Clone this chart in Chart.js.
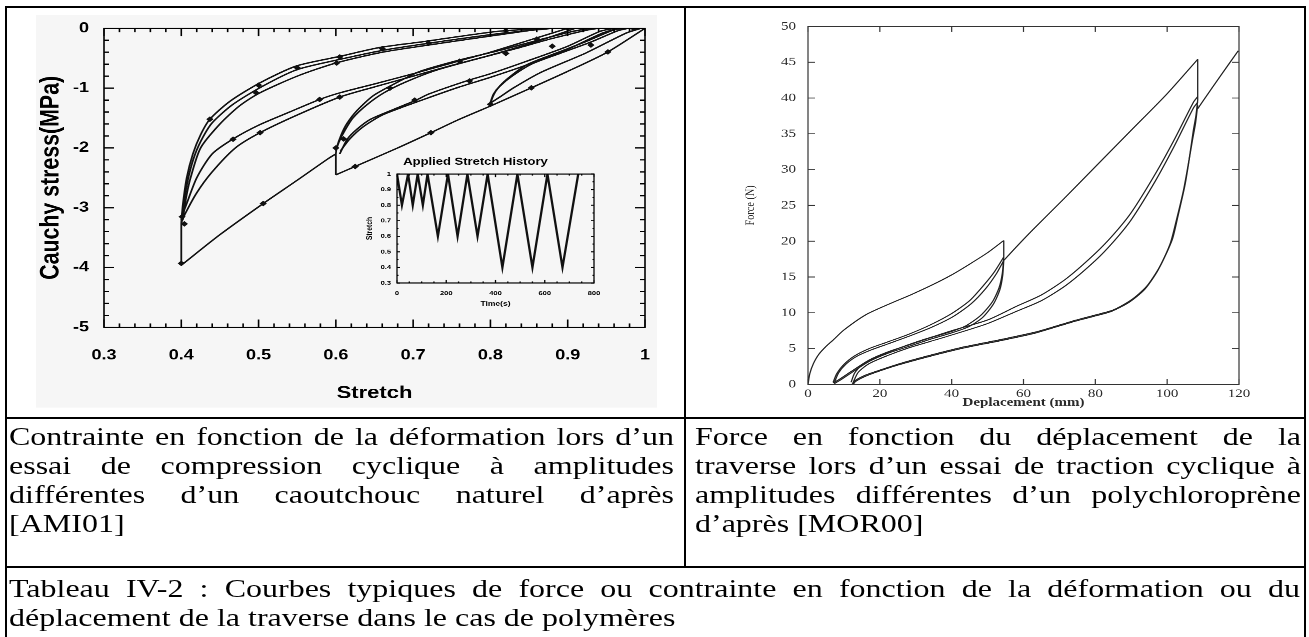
<!DOCTYPE html>
<html lang="fr">
  <head>
    <meta charset="UTF-8" />
    <title>Tableau IV-2</title>
    <script src="https://cdn.jsdelivr.net/npm/chart.js"></script>
    <style>
      html,
      body {
        margin: 0;
        padding: 0;
        background: #fff;
        overflow: hidden;
      }
      #page {
        position: relative;
        width: 1309px;
        height: 637px;
      }
      /* the scanned sheet is squashed vertically: everything is laid out taller, then scaled down */
      #sheet {
        position: absolute;
        left: 0;
        top: 0;
        width: 1309px;
        height: 807px;
        transform: scaleY(0.79);
        transform-origin: 0 0;
      }
      .hl {
        position: absolute;
        height: 2px;
        background: #000;
      }
      .vl {
        position: absolute;
        width: 2px;
        background: #000;
      }
      .cap {
        position: absolute;
        font-family: 'Liberation Serif', 'Times New Roman', serif;
        font-size: 32px;
        line-height: 36.8px;
        text-align: justify;
        color: #000;
      }
      canvas {
        position: absolute;
      }
    </style>
  </head>
  <body>
    <div id="page">
      <div id="sheet">
        <div style="position: absolute; left: 36px; top: 19px; width: 621px; height: 497px; background: #f6f6f6"></div>
        <canvas id="stressChart" width="677" height="517" style="left: 7px; top: 9.5px"></canvas>
        <canvas id="historyChart" width="276" height="210" style="left: 357px; top: 190px"></canvas>
        <canvas id="forceChart" width="618" height="517" style="left: 686px; top: 9.5px"></canvas>

        <div class="cap" style="left: 9px; top: 534px; width: 665px">
          Contrainte en fonction de la déformation lors d’un essai de compression cyclique à amplitudes différentes d’un caoutchouc naturel d’après [AMI01]
        </div>
        <div class="cap" style="left: 695px; top: 534px; width: 606px">
          Force en fonction du déplacement de la traverse lors d’un essai de traction cyclique à amplitudes différentes d’un polychloroprène d’après [MOR00]
        </div>
        <div class="cap" style="left: 9px; top: 726.5px; width: 1291px">
          Tableau IV-2 : Courbes typiques de force ou contrainte en fonction de la déformation ou du déplacement de la traverse dans le cas de polymères
        </div>
      </div>

      <!-- table borders -->
      <div class="hl" style="left: 5px; top: 5.5px; width: 1301px"></div>
      <div class="hl" style="left: 5px; top: 416.5px; width: 1301px"></div>
      <div class="hl" style="left: 5px; top: 565.5px; width: 1301px"></div>
      <div class="vl" style="left: 5px; top: 5.5px; height: 640px"></div>
      <div class="vl" style="left: 1304px; top: 5.5px; height: 640px"></div>
      <div class="vl" style="left: 684px; top: 5.5px; height: 561px"></div>
    </div>

    <script>
      // ---- left chart : stretch / Cauchy stress (MPa) ----
      const stretchTicks = [0.3, 0.4, 0.5, 0.6, 0.7, 0.8, 0.9, 1]
      const stressTicks = [0, -1, -2, -3, -4, -5]

      // cycles down to 0.8
      const load08 = [[1, 0], [0.952, -0.395], [0.9, -0.72], [0.853, -0.995], [0.8, -1.3]]
      const unload08a = [[0.8, -1.3], [0.802, -1.18], [0.808, -1.03], [0.821, -0.855], [0.847, -0.61], [0.886, -0.41], [0.924, -0.22], [0.959, -0.03], [0.972, 0]]
      const unload08b = [[0.8, -1.24], [0.804, -1.1], [0.812, -0.97], [0.828, -0.8], [0.853, -0.6], [0.89, -0.42], [0.93, -0.23], [0.965, -0.04], [0.978, 0]]
      const reload08 = [[0.995, 0], [0.976, -0.078], [0.924, -0.41], [0.864, -0.745], [0.83, -0.995], [0.812, -1.15], [0.8, -1.25]]

      // cycles down to 0.6
      const load06 = [[0.8, -1.3], [0.76, -1.52], [0.723, -1.745], [0.68, -2.0], [0.625, -2.31], [0.6, -2.45]]
      const drop06 = [[0.6, -2.45], [0.6, -2.1]]
      const unload06a = [[0.6, -2.1], [0.601, -2.0], [0.607, -1.78], [0.614, -1.6], [0.627, -1.38], [0.648, -1.13], [0.674, -0.94], [0.709, -0.72], [0.76, -0.53], [0.812, -0.37], [0.864, -0.19], [0.907, -0.05], [0.93, 0]]
      const unload06b = [[0.6, -2.05], [0.604, -1.9], [0.612, -1.7], [0.622, -1.5], [0.64, -1.28], [0.662, -1.08], [0.69, -0.9], [0.73, -0.7], [0.78, -0.52], [0.83, -0.35], [0.88, -0.17], [0.925, -0.03], [0.94, 0]]
      const reload06a = [[0.96, 0], [0.942, -0.05], [0.9, -0.3], [0.847, -0.55], [0.8, -0.76], [0.769, -0.88], [0.72, -1.1], [0.704, -1.2], [0.674, -1.36], [0.645, -1.52], [0.628, -1.68], [0.615, -1.85], [0.605, -2.1]]
      const reload06b = [[0.965, 0], [0.945, -0.08], [0.9, -0.35], [0.85, -0.6], [0.8, -0.82], [0.76, -0.98], [0.72, -1.16], [0.69, -1.3], [0.66, -1.45], [0.635, -1.65], [0.618, -1.85], [0.606, -2.05]]

      // cycles down to 0.4
      const load04 = [[0.6, -2.1], [0.59, -2.18], [0.55, -2.54], [0.506, -2.93], [0.45, -3.45], [0.403, -3.93]]
      const drop04 = [[0.4, -3.93], [0.4, -3.25]]
      const unload04a = [[0.4, -3.25], [0.402, -2.95], [0.407, -2.5], [0.415, -2.1], [0.425, -1.78], [0.437, -1.52], [0.463, -1.22], [0.502, -0.91], [0.549, -0.63], [0.605, -0.47], [0.657, -0.32], [0.709, -0.23], [0.81, -0.05], [0.875, 0]]
      const unload04b = [[0.4, -3.2], [0.404, -2.85], [0.41, -2.45], [0.418, -2.1], [0.428, -1.82], [0.44, -1.58], [0.466, -1.28], [0.505, -0.97], [0.55, -0.69], [0.605, -0.52], [0.66, -0.37], [0.72, -0.25], [0.81, -0.09], [0.88, 0]]
      const unload04c = [[0.402, -3.2], [0.406, -2.85], [0.412, -2.5], [0.425, -2.0], [0.45, -1.6], [0.475, -1.3], [0.5, -1.09], [0.55, -0.8], [0.6, -0.58], [0.66, -0.4], [0.72, -0.28], [0.8, -0.13], [0.87, 0]]
      const reload04a = [[0.9, 0], [0.85, -0.2], [0.8, -0.4], [0.75, -0.58], [0.7, -0.76], [0.65, -0.93], [0.605, -1.08], [0.579, -1.19], [0.54, -1.4], [0.5, -1.62], [0.467, -1.85], [0.44, -2.1], [0.42, -2.5], [0.405, -3.0], [0.4, -3.15]]
      const reload04b = [[0.91, 0], [0.86, -0.22], [0.8, -0.45], [0.75, -0.62], [0.7, -0.8], [0.65, -0.98], [0.605, -1.15], [0.55, -1.45], [0.502, -1.745], [0.47, -2.0], [0.44, -2.4], [0.42, -2.75], [0.405, -3.1], [0.4, -3.25]]

      // diamond symbols along the curves
      const stressMarkers = [[0.4, -3.93], [0.506, -2.93], [0.625, -2.31], [0.723, -1.745], [0.853, -0.995], [0.952, -0.395], [0.401, -3.15], [0.404, -3.27], [0.437, -1.52], [0.5, -0.95], [0.55, -0.66], [0.605, -0.48], [0.66, -0.34], [0.72, -0.25], [0.82, -0.04], [0.497, -1.08], [0.601, -0.58], [0.467, -1.855], [0.502, -1.745], [0.579, -1.19], [0.605, -1.15], [0.702, -1.2], [0.773, -0.88], [0.6, -2.0], [0.61, -1.85], [0.67, -1.0], [0.76, -0.55], [0.82, -0.42], [0.88, -0.3], [0.93, -0.28], [0.9, 0], [0.92, 0], [0.96, 0], [0.985, 0], [0.86, -0.18], [0.8, -1.27]]

      // ---- inset : applied stretch history ----
      const historyTime = [0, 20, 45, 64, 84, 105, 124, 166, 207, 246, 286, 327, 368, 428, 489, 550, 611, 672, 736]
      const historyStretch = [1, 0.8, 1, 0.8, 1, 0.8, 1, 0.6, 1, 0.6, 1, 0.6, 1, 0.4, 1, 0.4, 1, 0.4, 1]
      const timeTicks = [0, 200, 400, 600, 800]
      const historyTicks = [0.3, 0.4, 0.5, 0.6, 0.7, 0.8, 0.9, 1]

      // ---- right chart : force (N) / deplacement (mm) ----
      const dispTicks = [0, 20, 40, 60, 80, 100, 120]
      const forceTicks = [0, 5, 10, 15, 20, 25, 30, 35, 40, 45, 50]

      const virgin1 = [[0, 0], [0.5, 1.5], [1.5, 2.9], [3, 4.2], [5, 5.3], [7, 6.2], [10, 7.6], [16, 9.7], [22, 11.1], [29, 12.6], [35, 14], [40, 15.3], [45, 16.8], [50, 18.4], [54.5, 20.1]]
      const drop54 = [[54.5, 20.1], [54.5, 17.8]]
      const unload54a = [[54.5, 17.8], [54.1, 15.5], [53.2, 13.5], [51.3, 11.5], [48, 9.6], [44, 8.2], [40, 7.4], [34, 6.5], [28, 5.5], [22, 4.5], [17, 3.4], [12, 1.8], [9, 0.8], [7, 0.2]]
      const unload54b = [[54.5, 17.3], [54.2, 15.2], [53.4, 13.2], [51.6, 11.2], [48.5, 9.3], [44.5, 8.0], [40, 7.2], [34, 6.3], [28, 5.3], [22, 4.3], [17, 3.2], [12, 1.6], [9, 0.6], [7.3, 0.1]]
      const reload54a = [[7, 0.3], [8, 1.5], [10, 2.8], [13, 4.0], [17, 5.0], [22, 5.9], [28, 7.0], [34, 8.3], [40, 9.9], [45, 11.7], [49, 13.9], [52, 15.8], [54.5, 17.8]]
      const reload54b = [[7.3, 0.2], [8.5, 1.6], [10.5, 2.8], [13.5, 3.9], [17.5, 4.8], [22.5, 5.7], [28.5, 6.8], [34.5, 8.0], [40.5, 9.5], [45.5, 11.3], [49.5, 13.4], [52.5, 15.5], [54.5, 17.3]]
      const virgin2 = [[54.5, 17.3], [58, 19.2], [62.6, 21.6], [71, 25.8], [80, 30.4], [90, 35.5], [100, 40.6], [108.5, 45.4]]
      const drop109 = [[108.5, 45.4], [108.5, 39.7]]
      const unload109a = [[108.5, 39.7], [108, 37.5], [107.3, 35.5], [106, 31], [104.9, 27.7], [103, 23.5], [101.4, 20.2], [98, 16.5], [94.3, 13.7], [90, 11.8], [85, 10.4], [80, 9.7], [74, 8.9], [64, 7.4], [54, 6.3], [44, 5.3], [35, 4.2], [25.5, 2.9], [20, 2], [16, 1.3], [13, 0.5], [12.3, 0]]
      const unload109b = [[108.5, 39], [107.9, 36.5], [107, 34], [105.8, 30.5], [104.5, 27], [102.5, 22.8], [100.8, 19.6], [97.5, 16], [93.8, 13.3], [89.5, 11.5], [84.5, 10.2], [79.5, 9.5], [73.5, 8.7], [63.5, 7.2], [53.5, 6.1], [43.5, 5.1], [34.5, 4], [25, 2.7], [19.5, 1.8], [15.8, 1.1], [13.2, 0.4], [12.6, 0]]
      const reload109a = [[12, 0.3], [13, 1.6], [15, 2.7], [20, 4.0], [25, 5.0], [30, 5.9], [35, 6.7], [40, 7.5], [50, 9.0], [58, 10.9], [65, 12.5], [72, 14.8], [80, 18.3], [85, 20.9], [90, 24.0], [96.7, 29.4], [102, 34.2], [107.3, 39.4], [108.5, 40.2]]
      const reload109b = [[12.5, 0.2], [14, 1.7], [17, 2.9], [22, 4.0], [28, 5.1], [34, 6.0], [40, 6.9], [50, 8.5], [58, 10.2], [65, 11.7], [72, 13.9], [80, 17.3], [85, 19.9], [90, 23.0], [96.7, 28.4], [102, 33.3], [107.3, 38.6], [108.5, 39.4]]
      const final109 = [[108.5, 38.5], [110, 39.6], [115, 43.2], [119.8, 46.6]]

      // frame + inward ticks on the four sides
      const innerTicks = {
        id: 'innerTicks',
        afterDraw(chart, args, o) {
          const { ctx, chartArea: a } = chart
          const xs = chart.scales.x
          const ys = chart.scales.y
          ctx.save()
          ctx.strokeStyle = o.color
          ctx.lineWidth = o.lineWidth
          ctx.strokeRect(a.left, a.top, a.right - a.left, a.bottom - a.top)
          ctx.beginPath()
          const marks = (scale, step, len) => {
            const n = Math.round((scale.max - scale.min) / step)
            for (let i = 0; i <= n; i++) {
              const p = scale.getPixelForValue(scale.min + i * step)
              if (scale.isHorizontal()) {
                ctx.moveTo(p, a.bottom)
                ctx.lineTo(p, a.bottom - len)
                ctx.moveTo(p, a.top)
                ctx.lineTo(p, a.top + len)
              } else {
                ctx.moveTo(a.left, p)
                ctx.lineTo(a.left + len, p)
                ctx.moveTo(a.right, p)
                ctx.lineTo(a.right - len, p)
              }
            }
          }
          marks(xs, o.xMinor, o.xMinorLen)
          marks(xs, o.xMajor, o.xMajorLen)
          marks(ys, o.yMinor, o.yMinorLen)
          marks(ys, o.yMajor, o.yMajorLen)
          ctx.stroke()
          ctx.restore()
        }
      }

      function curve(pts, color, width) {
        return {
          data: pts.map(p => ({ x: p[0], y: p[1] })),
          showLine: true,
          borderColor: color,
          borderWidth: width,
          pointRadius: 0,
          tension: 0.25,
          fill: false
        }
      }

      function axis(min, max, values, size, pad, font, color) {
        return {
          type: 'linear',
          min: min,
          max: max,
          afterFit: s => {
            if (s.isHorizontal()) s.height = size
            else s.width = size
          },
          afterBuildTicks: s => {
            s.ticks = values.map(v => ({ value: v }))
          },
          grid: { display: false, drawTicks: false },
          border: { display: false },
          ticks: {
            padding: pad,
            color: color,
            font: font,
            autoSkip: false,
            maxRotation: 0,
            callback: v => String(v)
          }
        }
      }

      const base = {
        animation: false,
        responsive: false,
        devicePixelRatio: 2
      }

      // left chart
      const stressCurves = [load08, unload08a, unload08b, reload08, load06, drop06, unload06a, unload06b, reload06a, reload06b, load04, drop04, unload04a, unload04b, unload04c, reload04a, reload04b]
      const boldSans = { family: 'Liberation Sans', size: 18, weight: 'bold' }
      const stressX = axis(0.3, 1, stretchTicks, 112.6, 25, boldSans, '#000')
      stressX.title = { display: true, text: 'Stretch', color: '#000', font: { family: 'Liberation Sans', size: 22, weight: 'bold' }, padding: { top: 15.8, bottom: 15.8 } }
      const stressY = axis(-5, 0, stressTicks, 97, 15, boldSans, '#000')
      stressY.title = { display: true, text: 'Cauchy stress(MPa)', color: '#000', font: { family: 'Liberation Sans', size: 27, weight: 'bold' }, padding: { top: 27.8, bottom: 27.8 } }

      new Chart(document.getElementById('stressChart'), {
        type: 'scatter',
        data: {
          datasets: stressCurves.map(c => curve(c, '#111', 1.8)).concat([
            {
              data: stressMarkers.map(p => ({ x: p[0], y: p[1] })),
              showLine: false,
              pointStyle: 'rectRot',
              pointRadius: 3.6,
              backgroundColor: '#111',
              borderColor: '#111',
              borderWidth: 0
            }
          ])
        },
        options: {
          ...base,
          layout: { padding: { top: 24.7, right: 39, left: 0, bottom: 0 } },
          plugins: {
            legend: { display: false },
            tooltip: { enabled: false },
            innerTicks: { color: '#000', lineWidth: 1.6, xMajor: 0.1, xMajorLen: 10, xMinor: 0.02, xMinorLen: 5, yMajor: 1, yMajorLen: 10, yMinor: 0.2, yMinorLen: 5 }
          },
          scales: { x: stressX, y: stressY }
        },
        plugins: [innerTicks]
      })

      // inset
      const smallBold = { family: 'Liberation Sans', size: 7.5, weight: 'bold' }
      const histX = axis(0, 800, timeTicks, 41.8, 8.7, smallBold, '#000')
      histX.title = { display: true, text: 'Time(s)', color: '#000', font: { family: 'Liberation Sans', size: 8.5, weight: 'bold' }, padding: { top: 10.2, bottom: 10.2 } }
      const histY = axis(0.3, 1, historyTicks, 40, 6, smallBold, '#000')
      histY.title = { display: true, text: 'Stretch', color: '#000', font: { family: 'Liberation Sans', size: 8.5, weight: 'bold' }, padding: { top: 7.4, bottom: 7.4 } }

      new Chart(document.getElementById('historyChart'), {
        type: 'scatter',
        data: {
          datasets: [
            {
              data: historyTime.map((t, i) => ({ x: t, y: historyStretch[i] })),
              showLine: true,
              borderColor: '#111',
              borderWidth: 2.3,
              pointRadius: 0,
              tension: 0
            }
          ]
        },
        options: {
          ...base,
          layout: { padding: { top: 0, right: 39, left: 0, bottom: 0 } },
          plugins: {
            legend: { display: false },
            tooltip: { enabled: false },
            title: { display: true, text: 'Applied Stretch History', color: '#000', font: { family: 'Liberation Sans', size: 13, weight: 'bold' }, padding: { top: 7.3, bottom: 7.4 } },
            innerTicks: { color: '#000', lineWidth: 1.3, xMajor: 200, xMajorLen: 4, xMinor: 50, xMinorLen: 2, yMajor: 0.1, yMajorLen: 3, yMinor: 0.05, yMinorLen: 1.5 }
          },
          scales: { x: histX, y: histY }
        },
        plugins: [innerTicks]
      })

      // right chart
      const forceCurves = [virgin1, drop54, unload54a, unload54b, reload54a, reload54b, virgin2, drop109, unload109a, unload109b, reload109a, reload109b, final109]
      const serif = { family: 'Liberation Serif', size: 15 }
      const forceX = axis(0, 120, dispTicks, 40.4, 3, serif, '#2a2a2a')
      forceX.title = { display: true, text: 'Deplacement (mm)', color: '#2a2a2a', font: { family: 'Liberation Serif', size: 15, weight: 'bold' }, padding: { top: 8.6, bottom: 8.6 } }
      const forceY = axis(0, 50, forceTicks, 122, 12, serif, '#2a2a2a')
      forceY.title = { display: true, text: 'Force (N)', color: '#2a2a2a', font: { family: 'Liberation Serif', size: 13 }, padding: { top: 57, bottom: 57 } }

      new Chart(document.getElementById('forceChart'), {
        type: 'scatter',
        data: { datasets: forceCurves.map(c => curve(c, '#222', 1.3)) },
        options: {
          ...base,
          layout: { padding: { top: 23.4, right: 65, left: 0, bottom: 0 } },
          plugins: {
            legend: { display: false },
            tooltip: { enabled: false },
            innerTicks: { color: '#333', lineWidth: 1.2, xMajor: 20, xMajorLen: 7, xMinor: 20, xMinorLen: 7, yMajor: 5, yMajorLen: 7, yMinor: 5, yMinorLen: 7 }
          },
          scales: { x: forceX, y: forceY }
        },
        plugins: [innerTicks]
      })
    </script>
  </body>
</html>
